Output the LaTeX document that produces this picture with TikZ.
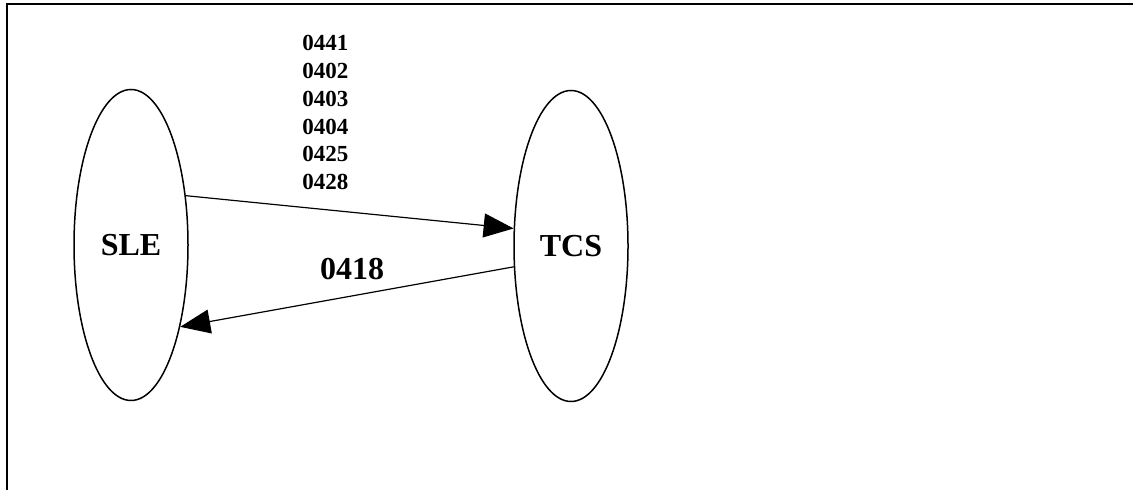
\documentclass[tikz,border=0pt]{standalone}
\usepackage{fontspec}
\setmainfont{Liberation Serif}
\usepackage{tikz}
\usetikzlibrary{arrows.meta}
\usetikzlibrary{shapes.geometric}
\tikzstyle{sys}=[shape=ellipse,draw,line width=0.75pt,inner sep=0pt,minimum width=57pt,minimum height=155.5pt,font=\fontsize{16}{19}\selectfont\bfseries]
\tikzstyle{msg}=[draw,line width=0.6pt,-{Triangle[length=15pt,width=12pt]}]
\tikzstyle{lbl}=[inner sep=0pt,font=\bfseries]

\begin{document}
\begin{tikzpicture}[x = 0.5pt, y = -0.5pt]
\useasboundingbox (0,0) rectangle (1133,490);
\draw[line width=1pt] (7,500) -- (7,4) -- (1140,4);

\node[sys] (sle) at (131,245) {SLE};
\node[sys] (tcs) at (571,246) {TCS};

\draw[msg] (sle.42) -- (tcs.163);
\draw[msg] (tcs.200) -- (sle.-59);

\node[lbl, align=left, anchor=north west, font=\fontsize{11.5}{13.9}\selectfont\bfseries] (codes) at (302,35)
{0441\\0402\\0403\\0404\\0425\\0428};
\node[lbl, font=\fontsize{16}{19}\selectfont\bfseries] (resp) at (352,269) {0418};
\end{tikzpicture}
\end{document}
